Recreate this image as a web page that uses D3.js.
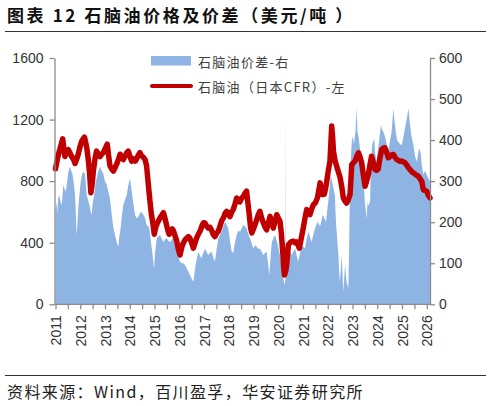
<!DOCTYPE html>
<html><head><meta charset="utf-8">
<script src="https://cdn.jsdelivr.net/npm/d3@7"></script>
<style>body{margin:0;background:#fff}svg{display:block}</style>
</head><body>
<svg id="c" width="491" height="406"></svg>
<script>
// ---- data (decimal years) ----
const titleText = "图表 12 石脑油价格及价差（美元/吨 ）";
const sourceText = "资料来源：Wind，百川盈孚，华安证券研究所";
const legendSpread = "石脑油价差-右";
const legendPrice = "石脑油（日本CFR）-左";
const yearLabels = [2011,2012,2013,2014,2015,2016,2017,2018,2019,2020,2021,2022,2023,2024,2025,2026];
const leftTicks = [0,400,800,1200,1600];
const rightTicks = [0,100,200,300,400,500,600];

const priceYears = [2011.00,2011.06,2011.12,2011.2,2011.29,2011.34,2011.38,2011.45,2011.52,2011.58,2011.65,2011.72,2011.79,2011.86,2011.92,
2012.0,2012.06,2012.12,2012.17,2012.22,2012.27,2012.33,2012.37,2012.43,2012.48,2012.53,2012.6,2012.66,2012.73,2012.8,2012.87,2012.93,
2013.0,2013.09,2013.15,2013.2,2013.27,2013.34,2013.4,2013.47,2013.55,2013.61,2013.68,2013.74,2013.82,2013.88,2013.94,
2014.01,2014.08,2014.15,2014.22,2014.28,2014.35,2014.41,2014.48,2014.55,2014.62,2014.68,2014.75,2014.81,2014.87,2014.93,2014.99,
2015.05,2015.12,2015.22,2015.3,2015.36,2015.42,2015.48,2015.54,2015.59,2015.66,2015.72,2015.76,2015.84,2015.9,2015.96,
2016.03,2016.1,2016.17,2016.24,2016.3,2016.37,2016.43,2016.5,2016.57,2016.64,2016.7,2016.77,2016.84,2016.92,2016.98,
2017.04,2017.12,2017.17,2017.24,2017.31,2017.37,2017.44,2017.5,2017.58,2017.65,2017.72,2017.78,2017.85,2017.92,2017.98,
2018.05,2018.12,2018.18,2018.25,2018.32,2018.38,2018.45,2018.52,2018.59,2018.65,2018.72,2018.78,2018.83,2018.88,2018.93,
2019.0,2019.06,2019.13,2019.2,2019.26,2019.33,2019.4,2019.47,2019.53,2019.6,2019.67,2019.74,2019.8,2019.87,2019.94,
2020.0,2020.07,2020.12,2020.18,2020.22,2020.25,2020.3,2020.34,2020.38,2020.41,2020.48,2020.54,2020.62,2020.68,2020.74,2020.8,2020.85,2020.92,
2021.01,2021.08,2021.15,2021.22,2021.28,2021.35,2021.42,2021.5,2021.58,2021.64,2021.69,2021.74,2021.79,2021.86,2021.92,2021.96,
2022.02,2022.09,2022.13,2022.16,2022.2,2022.23,2022.3,2022.36,2022.43,2022.5,2022.57,2022.63,2022.7,2022.76,2022.83,2022.9,2022.94,2022.97,
2023.04,2023.1,2023.17,2023.24,2023.3,2023.37,2023.44,2023.51,2023.57,2023.64,2023.7,2023.77,2023.84,2023.91,2023.97,
2024.04,2024.1,2024.18,2024.25,2024.31,2024.38,2024.45,2024.52,2024.58,2024.65,2024.72,2024.78,2024.85,2024.92,2024.99,
2025.06,2025.12,2025.19,2025.26,2025.33,2025.4,2025.46,2025.53,2025.6,2025.66,2025.73,2025.8,2025.86,2025.93,2026.0,2026.06,2026.13];
const priceValues = [880,930,975,1020,1075,1010,960,990,1005,985,960,945,915,945,975,
1030,1060,1075,1086,1050,1010,930,865,725,780,865,950,995,975,960,975,985,
1010,1040,960,900,880,865,885,910,945,975,955,940,965,985,995,
960,930,945,930,945,970,985,965,955,940,900,780,680,590,530,455,
500,530,560,580,595,560,520,480,455,470,490,480,440,410,360,
320,370,400,420,430,440,430,400,365,400,430,455,475,510,530,
528,505,495,500,480,455,440,460,475,510,545,560,590,604,585,
570,600,615,650,690,680,665,690,700,720,735,650,580,500,463,
490,517,550,585,604,560,528,500,484,530,571,530,495,540,582,
560,539,470,343,240,190,215,256,330,387,400,408,410,400,405,385,365,420,
495,560,615,590,582,620,647,660,691,740,789,750,713,715,760,800,
865,930,1060,1158,1080,995,930,897,860,822,760,691,670,658,680,713,820,908,
920,930,960,984,960,919,840,767,800,843,900,962,920,876,870,
880,940,1006,1015,1017,985,952,960,970,973,955,941,935,930,930,
925,919,905,887,875,860,854,845,838,832,815,799,745,740,734,710,691];

const spreadYears = [2011.0,2011.04,2011.07,2011.11,2011.15,2011.2,2011.25,2011.29,2011.32,2011.37,2011.42,2011.47,2011.52,2011.56,2011.59,2011.64,2011.68,2011.73,2011.79,2011.83,2011.855,2011.89,2011.92,2011.97,
2012.02,2012.07,2012.12,2012.16,2012.19,2012.23,2012.26,2012.31,2012.37,2012.42,2012.46,2012.51,2012.56,2012.61,2012.66,2012.73,2012.8,2012.87,2012.93,
2013.0,2013.07,2013.13,2013.2,2013.27,2013.34,2013.4,2013.47,2013.54,2013.58,2013.63,2013.68,2013.74,2013.81,2013.88,2013.94,
2014.01,2014.06,2014.12,2014.17,2014.21,2014.26,2014.31,2014.36,2014.41,2014.48,2014.55,2014.62,2014.68,2014.75,2014.79,2014.84,2014.89,2014.94,2014.98,
2015.03,2015.09,2015.15,2015.22,2015.29,2015.36,2015.42,2015.49,2015.56,2015.63,2015.7,2015.76,2015.83,2015.9,2015.96,
2016.03,2016.1,2016.17,2016.24,2016.3,2016.37,2016.43,2016.5,2016.57,2016.64,2016.7,2016.77,2016.84,2016.9,2016.97,
2017.04,2017.1,2017.17,2017.24,2017.31,2017.37,2017.44,2017.51,2017.58,2017.65,2017.71,2017.78,2017.85,2017.92,2017.98,
2018.05,2018.12,2018.18,2018.25,2018.32,2018.38,2018.46,2018.52,2018.59,2018.65,2018.72,2018.79,2018.86,2018.92,2018.99,
2019.06,2019.13,2019.2,2019.26,2019.33,2019.4,2019.47,2019.53,2019.59,2019.64,2019.69,2019.74,2019.8,2019.87,2019.94,
2020.0,2020.07,2020.14,2020.2,2020.25,2020.29,2020.3,2020.31,2020.36,2020.41,2020.48,2020.54,2020.61,2020.68,2020.74,2020.81,2020.88,2020.95,
2021.01,2021.08,2021.15,2021.22,2021.28,2021.35,2021.42,2021.49,2021.55,2021.58,2021.64,2021.69,2021.75,2021.79,2021.86,2021.93,2021.98,
2022.02,2022.07,2022.12,2022.17,2022.23,2022.29,2022.31,2022.34,2022.38,2022.43,2022.46,2022.49,2022.53,2022.56,2022.6,2022.63,2022.66,2022.7,2022.73,2022.76,2022.8,2022.83,2022.86,2022.9,2022.94,2022.97,
2023.02,2023.06,2023.13,2023.17,2023.2,2023.24,2023.3,2023.37,2023.44,2023.5,2023.57,2023.61,2023.64,2023.71,2023.74,2023.79,2023.88,2023.91,2023.97,
2024.07,2024.15,2024.2,2024.25,2024.31,2024.38,2024.45,2024.52,2024.58,2024.65,2024.7,2024.75,2024.8,2024.85,2024.92,2024.99,
2025.05,2025.12,2025.19,2025.26,2025.32,2025.38,2025.46,2025.53,2025.6,2025.69,2025.75,2025.8,2025.86,2025.92,2025.97,2026.06,2026.13];
const spreadValues = [225,250,222,260,266,250,242,270,291,280,274,300,323,330,335,325,318,300,266,210,169,200,234,270,
299,315,323,320,318,290,266,255,242,225,218,250,266,290,307,325,335,325,318,
300,291,275,258,220,185,170,152,140,165,185,215,242,255,266,290,
307,285,258,235,218,212,209,215,222,225,218,210,193,190,185,160,136,110,88,
130,161,165,169,160,152,158,161,155,152,158,161,145,128,115,
104,100,100,95,88,80,71,62,55,88,110,128,118,112,125,
136,128,120,125,128,115,104,135,161,170,177,190,201,193,185,
155,128,125,150,169,180,177,185,193,190,185,170,161,150,136,
144,140,135,136,128,120,125,128,100,71,115,152,160,169,155,
140,120,88,65,47,60,483,80,110,136,128,120,128,136,120,104,125,144,
140,136,160,177,165,152,170,185,195,201,195,190,205,218,210,201,230,
250,280,315,300,283,266,230,193,160,120,80,55,90,120,70,31,60,96,75,55,45,40,120,307,360,396,
410,390,429,481,420,410,380,347,307,250,209,250,240,250,330,388,404,370,347,
396,437,425,420,410,390,372,400,420,477,445,420,400,396,390,388,
405,429,450,477,440,410,388,360,347,380,370,340,315,325,320,307,300];

// ---- layout ----
const svg = d3.select("#c");
const X0 = 55.5, X1 = 430, Y0 = 304.3, Y1 = 58;
const x = d3.scaleLinear().domain([2011, 2011 + (X1 - X0) / 24.75]).range([X0, X1]);
const yL = d3.scaleLinear().domain([0, 1600]).range([Y0, Y1]);
const yR = d3.scaleLinear().domain([0, 600]).range([Y0, Y1]);
const axisColor = "#8c8c8c";
const numFont = "'Liberation Sans', Arial, sans-serif";
const cjkFont = "'Noto Sans CJK SC', sans-serif";
const plain = d3.format("d");

svg.append("rect").attr("width", 491).attr("height", 406).attr("fill", "#fff");

// title
svg.append("text").attr("x", 7).attr("y", 22)
  .attr("font-family", cjkFont).attr("font-weight", "bold").attr("font-size", 17)
  .attr("letter-spacing", "2.6px").attr("fill", "#111").text(titleText);
svg.append("line").attr("x1", 5).attr("x2", 486).attr("y1", 31.5).attr("y2", 31.5)
  .attr("stroke", "#333").attr("stroke-width", 1);

// area (spread, right axis)
const spreadData = spreadYears.map((d, i) => ({ t: d, v: spreadValues[i] }));
svg.append("path").datum(spreadData)
  .attr("fill", "#8eb4e3")
  .attr("d", d3.area().x(d => x(d.t)).y0(yR(0)).y1(d => yR(d.v)));

// line (price, left axis)
const priceData = priceYears.map((d, i) => ({ t: d, v: priceValues[i] }));
svg.append("path").datum(priceData)
  .attr("fill", "none").attr("stroke", "#c00000").attr("stroke-width", 5.5)
  .attr("stroke-linejoin", "round").attr("stroke-linecap", "round")
  .attr("d", d3.line().x(d => x(d.t)).y(d => yL(d.v)));

function styleAxis(g) {
  g.select(".domain").attr("stroke", axisColor).attr("stroke-width", 1.3);
  g.selectAll(".tick line").attr("stroke", axisColor).attr("stroke-width", 1.3);
  g.selectAll(".tick text").attr("fill", "#333").attr("font-family", numFont).attr("font-size", 14);
}

// left axis
const gL = svg.append("g").attr("transform", `translate(${X0 - 1},0)`)
  .call(d3.axisLeft(yL).tickValues(leftTicks).tickFormat(plain).tickSize(5).tickSizeOuter(0).tickPadding(6));
styleAxis(gL);

// right axis
const gR = svg.append("g").attr("transform", `translate(${X1},0)`)
  .call(d3.axisRight(yR).tickValues(rightTicks).tickFormat(plain).tickSize(5).tickSizeOuter(0).tickPadding(4));
styleAxis(gR);

// x axis with half-year ticks
const halfTicks = yearLabels.slice(0, -1).map(y => y + 0.5);
const allTicks = yearLabels.concat(halfTicks).sort((a, b) => a - b);
const gX = svg.append("g").attr("transform", `translate(0,${Y0})`)
  .call(d3.axisBottom(x).tickValues(allTicks).tickSize(5).tickSizeOuter(0)
    .tickFormat(d => Number.isInteger(d) ? String(d) : ""));
gX.select(".domain").attr("d", `M${X0 - 1},0H${X1}`);
styleAxis(gX);
gX.selectAll(".tick text")
  .attr("transform", "rotate(-90)").attr("x", -11).attr("y", 0).attr("dy", "0.36em")
  .attr("text-anchor", "end");

// legend
const lg = svg.append("g");
lg.append("rect").attr("x", 151).attr("y", 56).attr("width", 40).attr("height", 9.5).attr("fill", "#8eb4e3");
lg.append("text").attr("x", 198).attr("y", 61).attr("dominant-baseline", "central")
  .attr("font-family", cjkFont).attr("font-size", 13).attr("letter-spacing", "1.3px")
  .attr("fill", "#404040").text(legendSpread);
lg.append("line").attr("x1", 152).attr("x2", 191).attr("y1", 86).attr("y2", 86)
  .attr("stroke", "#c00000").attr("stroke-width", 4).attr("stroke-linecap", "round");
lg.append("text").attr("x", 198).attr("y", 86).attr("dominant-baseline", "central")
  .attr("font-family", cjkFont).attr("font-size", 13).attr("letter-spacing", "1.3px")
  .attr("fill", "#404040").text(legendPrice);

// bottom rule and source
svg.append("line").attr("x1", 5).attr("x2", 486).attr("y1", 375.5).attr("y2", 375.5)
  .attr("stroke", "#333").attr("stroke-width", 1);
svg.append("text").attr("x", 7).attr("y", 398)
  .attr("font-family", cjkFont).attr("font-size", 16).attr("letter-spacing", "1.4px")
  .attr("fill", "#222").text(sourceText);
</script>
</body></html>
